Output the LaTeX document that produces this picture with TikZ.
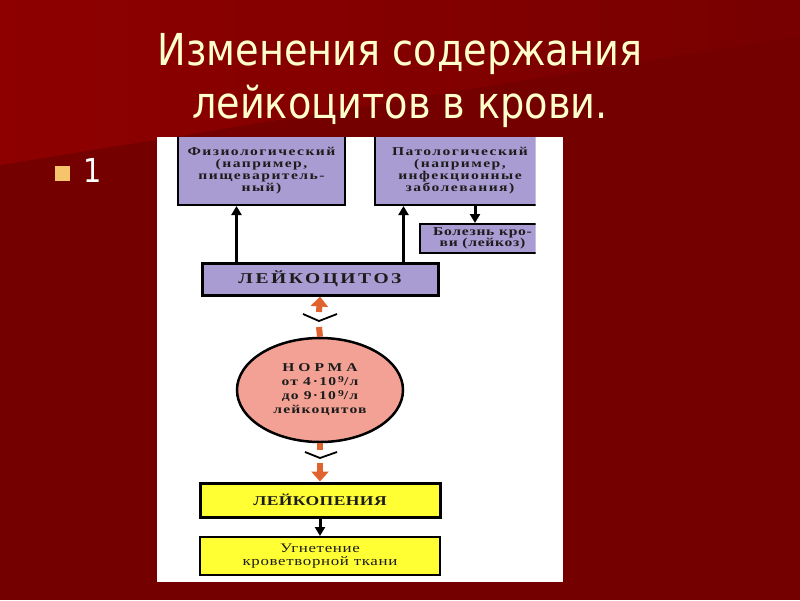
\documentclass[tikz,border=0pt]{standalone}
\usepackage{fontspec}
\usetikzlibrary{shapes.geometric,arrows.meta,calc}
\newfontfamily\titlefont[FakeStretch=0.87]{DejaVu Sans}
\newfontfamily\dg[FakeStretch=1.3]{Liberation Serif}
\definecolor{bgdark}{HTML}{740000}
\definecolor{bgleft}{HTML}{8E0000}
\definecolor{bgright}{HTML}{780000}
\definecolor{cream}{HTML}{FFFFCC}
\definecolor{bulletc}{HTML}{F6C46A}
\definecolor{lav}{HTML}{A99CD2}
\definecolor{yel}{HTML}{FFFF33}
\definecolor{pinkc}{HTML}{F2A194}
\definecolor{orng}{HTML}{E0622E}
\definecolor{ink}{HTML}{1C1C1C}
\tikzset{
  pbox/.style={draw=black, line width=2pt, fill=lav, align=center, inner sep=0pt, text=ink,
    font=\dg\bfseries\addfontfeature{LetterSpace=12}\fontsize{12}{11.8}\selectfont},
  capsbox/.style={draw=black, line width=3pt, inner sep=0pt, align=center, text=ink},
  ybox/.style={draw=black, line width=2pt, fill=yel, align=center, inner sep=0pt, text=ink,
    font=\dg\addfontfeature{LetterSpace=5}\fontsize{13}{12.5}\selectfont},
  barrow/.style={draw=black, line width=3pt, -{Triangle[width=10pt,length=9pt]}},
  oarrow/.style={draw=orng, line width=6pt, -{Triangle[width=17pt,length=10pt]}},
  oline/.style={draw=orng, line width=6pt},
  chev/.style={draw=black, line width=1.8pt},
  ttl/.style={font=\titlefont\fontsize{44}{53}\selectfont, align=center}
}
\newcommand{\supnine}{\raisebox{0.3em}{\fontsize{9}{9}\selectfont 9}}
\begin{document}
\begin{tikzpicture}[x=1pt,y=-1pt]
\useasboundingbox (0,0) rectangle (800,600);
% background
\fill[bgdark] (0,0) rectangle (800,600);
\shade[left color=bgleft, right color=bgright] (0,0) -- (800,0) -- (800,36) -- (0,165) -- cycle;
% title
\node[ttl, text=cream] (title) at (400,81) {Изменения содержания\\лейкоцитов в крови.};
% bullet
\fill[bulletc] (55,166) rectangle (70,181);
\node[font=\titlefont\fontsize{33}{35}\selectfont, text=white, anchor=base west, inner sep=0pt] (one) at (83,182) {1};
% white panel
\fill[white] (157,137) rectangle (563,582);
% top boxes (cut off by the scan edge)
\begin{scope}
\clip (157,137.5) rectangle (535.5,582);
\node[pbox, minimum width=167pt, minimum height=69pt] (fiz) at (261.5,170.5)
  {Физиологический\\(например,\\пищеваритель-\\ный)};
\node[pbox, minimum width=170pt, minimum height=69pt] (pat) at (460,170.5)
  {Патологический\\(например,\\инфекционные\\заболевания)};
\node[pbox, minimum width=125pt, minimum height=29pt,
  font=\dg\bfseries\addfontfeature{LetterSpace=6}\fontsize{12}{11.5}\selectfont] (bol) at (482.5,238.5)
  {Болезнь кро-\\ви (лейкоз)};
\end{scope}
% leukocytosis
\node[capsbox, fill=lav, minimum width=236pt, minimum height=32pt,
  font=\dg\bfseries\addfontfeature{LetterSpace=17}\fontsize{15}{16}\selectfont] (lc) at (320,279) {ЛЕЙКОЦИТОЗ};
% norm
\node[ellipse, draw=black, line width=2.5pt, fill=pinkc, minimum width=166pt, minimum height=104pt,
  inner sep=0pt, align=center, text=ink,
  font=\dg\bfseries\addfontfeature{LetterSpace=10}\fontsize{12}{14}\selectfont] (circ) at (320,390)
  {{\addfontfeature{LetterSpace=33}НОРМА}\\
   от 4\,·10\,\supnine/л\\
   до 9·10\,\supnine/л\\
   лейкоцитов};
% leukopenia
\node[capsbox, fill=yel, minimum width=240pt, minimum height=34pt,
  font=\dg\bfseries\addfontfeature{LetterSpace=3}\fontsize{13.5}{15}\selectfont] (lp) at (320,500) {ЛЕЙКОПЕНИЯ};
\node[ybox, minimum width=240pt, minimum height=38pt] (ug) at (320,556) {Угнетение\\кроветворной ткани};
% black arrows
\draw[barrow] ([xshift=36pt]lc.north west) -- ([xshift=36pt]lc.north west |- fiz.south);
\draw[barrow] ([xshift=-36pt]lc.north east) -- ([xshift=-36pt]lc.north east |- pat.south);
\draw[barrow] ([xshift=-7.5pt]bol.north |- pat.south) -- ([xshift=-7.5pt]bol.north);
\draw[barrow] (lp.south) -- (ug.north);
% orange arrows with chevrons
\coordinate (c1) at (319,321);
\coordinate (c2) at (320,458);
\draw[oarrow] ($(c1)+(0,-9)$) -- (lc.south);
\draw[oline] (circ.north) -- ($(c1)+(0,6)$);
\draw[chev] ($(c1)+(-16,-7)$) -- (c1) -- ($(c1)+(18,-7)$);
\draw[oline] (circ.south) -- ($(c2)+(0,-8)$);
\draw[oarrow] ($(c2)+(0,5)$) -- (lp.north);
\draw[chev] ($(c2)+(-15,-6)$) -- (c2) -- ($(c2)+(17,-6)$);
\end{tikzpicture}
\end{document}
